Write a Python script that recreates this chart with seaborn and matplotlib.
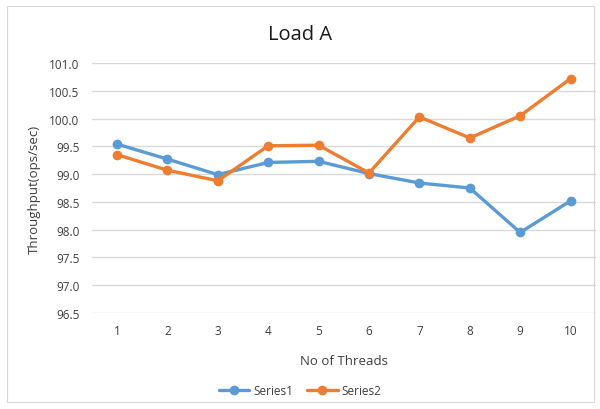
"""
Load A throughput chart (Excel style) recreated with seaborn
"""

import pandas as pd
import numpy as np
import matplotlib
matplotlib.use('Agg')
import matplotlib.pyplot as plt
import seaborn as sns
from matplotlib.patches import Rectangle

# ============================================================================
# DATA
# ============================================================================

threads = [1, 2, 3, 4, 5, 6, 7, 8, 9, 10]
series1 = [99.54, 99.27, 98.99, 99.21, 99.23, 99.01, 98.84, 98.75, 97.95, 98.52]
series2 = [99.35, 99.07, 98.88, 99.51, 99.52, 99.02, 100.03, 99.65, 100.05, 100.72]
series_names = ['Series1', 'Series2']
y_ticks = [96.5, 97.0, 97.5, 98.0, 98.5, 99.0, 99.5, 100.0, 100.5, 101.0]

df = pd.DataFrame({
    'threads': threads * 2,
    'value': series1 + series2,
    'series': [series_names[0]] * len(threads) + [series_names[1]] * len(threads),
})

# ============================================================================
# PLOT
# ============================================================================

sns.set_theme(style='white')
plt.rcParams['font.family'] = ['Open Sans', 'DejaVu Sans']

fig = plt.figure(figsize=(6, 4.1), dpi=100)
ax = fig.add_axes([0.153, 0.234, 0.84, 0.61])

palette = {'Series1': '#5B9BD5', 'Series2': '#ED7D31'}
sns.lineplot(
    data=df, x='threads', y='value', hue='series', palette=palette,
    marker='o', markersize=7, markeredgewidth=0, linewidth=2.4, ax=ax
)

ax.set_xlim(0.5, 10.5)
ax.set_ylim(96.5, 101.0)
ax.set_yticks(y_ticks)
ax.set_yticklabels([f'{v:.1f}' for v in y_ticks])
ax.set_xticks(threads)
ax.set_xticklabels([str(t) for t in threads])
ax.tick_params(axis='both', length=0, labelsize=8.5, colors='#404040')
ax.tick_params(axis='y', pad=9)
ax.tick_params(axis='x', pad=8)
ax.yaxis.grid(True, color='#D9D9D9', linewidth=1)
ax.xaxis.grid(False)
ax.set_axisbelow(True)
for s in ax.spines.values():
    s.set_visible(False)

ax.set_xlabel('No of Threads', fontsize=9.5, color='#404040', labelpad=12)
ax.set_ylabel('Throughput(ops/sec)', fontsize=9.5, color='#404040', labelpad=6)
fig.text(0.5, 0.915, 'Load A', ha='center', va='center', fontsize=14.5, color='#1a1a1a')

ax.legend(
    loc='center', bbox_to_anchor=(0.5, 0.044), bbox_transform=fig.transFigure,
    ncol=2, frameon=False, fontsize=8.5, handlelength=2.6, columnspacing=1.2,
    handletextpad=0.3, labelcolor='#404040'
)

# chart border
fig.patches.append(Rectangle((0.012, 0.017), 0.978, 0.966, transform=fig.transFigure,
                             fill=False, edgecolor='#D9D9D9', linewidth=0.8))

fig.savefig('out.png', dpi=100)
plt.close()
